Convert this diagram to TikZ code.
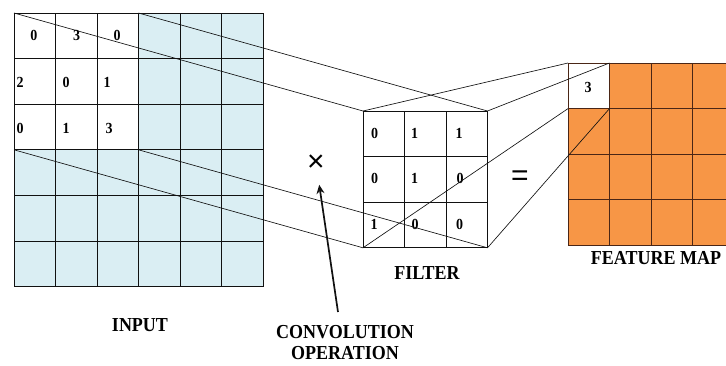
\documentclass[tikz,border=0pt]{standalone}
\usepackage{fontspec}
\setmainfont{Liberation Serif}
\newfontfamily\signfont{Liberation Sans}
\usetikzlibrary{arrows.meta,calc}
\definecolor{ink}{HTML}{111111}
\definecolor{inputfill}{HTML}{DAEEF3}
\definecolor{mapfill}{HTML}{F79646}
\definecolor{mapline}{HTML}{4A2616}
\tikzset{
  >={Stealth[length=9pt,width=8pt]},
  cellline/.style={draw=ink, line width=1pt, line cap=rect},
  mapcellline/.style={draw=mapline, line width=1pt, line cap=rect},
  proj/.style={draw=ink, line width=.65pt},
  callout/.style={draw=ink, line width=1.7pt, ->},
  num/.style={inner sep=0pt, font=\bfseries\fontsize{14}{16}\selectfont},
  caption/.style={align=center, inner sep=0pt,
    font=\bfseries\fontsize{18}{21}\selectfont},
  sign/.style={inner sep=0pt, font=\signfont\fontsize{30}{32}\selectfont}
}
\newcommand{\cellw}{41.5}
\newcommand{\cellh}{45.6}
\newcommand{\tallcaps}[1]{\scalebox{1}[1.1]{#1}}
\newcommand{\CellGrid}[6]{% name, x0, y0, cols, rows, line style
  \coordinate (#1-nw) at (#2,#3);
  \coordinate (#1-ne) at ({#2+#4*\cellw},#3);
  \coordinate (#1-sw) at (#2,{#3+#5*\cellh});
  \coordinate (#1-se) at ({#2+#4*\cellw},{#3+#5*\cellh});
  \foreach \i in {0,...,#4}
    \draw[#6] ({#2+\i*\cellw},#3) -- ({#2+\i*\cellw},{#3+#5*\cellh});
  \foreach \j in {0,...,#5}
    \draw[#6] (#2,{#3+\j*\cellh}) -- ({#2+#4*\cellw},{#3+\j*\cellh});
}

\begin{document}
\begin{tikzpicture}[x=1pt,y=-1pt]
  \useasboundingbox (0,0) rectangle (726,365);
  \clip (0,0) rectangle (726,365);

  % ------------------------------------------------------------------
  % input 6x6, window 3x3 top left
  \fill[inputfill] (14,13) rectangle ({14+6*\cellw},{13+6*\cellh});
  \fill[white] (14,13) rectangle ({14+3*\cellw},{13+3*\cellh});
  \CellGrid{input}{14}{13}{6}{6}{cellline}
  \CellGrid{win}{14}{13}{3}{3}{cellline}

  \node[num] (i11) at (34,35) {\tallcaps{0}};
  \node[num] (i12) at (76.5,35) {\tallcaps{3}};
  \node[num] (i13) at (117,35) {\tallcaps{0}};
  \node[num] (i21) at (20,82) {\tallcaps{2}};
  \node[num] (i22) at (66,82) {\tallcaps{0}};
  \node[num] (i23) at (107,82) {\tallcaps{1}};
  \node[num] (i31) at (20,128) {\tallcaps{0}};
  \node[num] (i32) at (66,128) {\tallcaps{1}};
  \node[num] (i33) at (109,128) {\tallcaps{3}};

  % ------------------------------------------------------------------
  % filter 3x3
  \CellGrid{filter}{363}{111}{3}{3}{cellline}

  \node[num] (f11) at (374.5,133) {\tallcaps{0}};
  \node[num] (f12) at (414.5,133) {\tallcaps{1}};
  \node[num] (f13) at (459,133) {\tallcaps{1}};
  \node[num] (f21) at (374.5,178) {\tallcaps{0}};
  \node[num] (f22) at (414.5,178) {\tallcaps{1}};
  \node[num] (f23) at (460,178) {\tallcaps{0}};
  \node[num] (f31) at (374,224) {\tallcaps{1}};
  \node[num] (f32) at (415,224) {\tallcaps{0}};
  \node[num] (f33) at (459.5,224) {\tallcaps{0}};

  % ------------------------------------------------------------------
  % feature map
  \fill[mapfill] (568,63) rectangle ({568+4*\cellw},{63+4*\cellh});
  \fill[white] (568,63) rectangle ({568+\cellw},{63+\cellh});
  \CellGrid{map}{568}{63}{4}{4}{mapcellline}
  \CellGrid{out}{568}{63}{1}{1}{mapcellline}
  \node[num] (m11) at (588,87) {\tallcaps{3}};

  % ------------------------------------------------------------------
  % projection lines
  \draw[proj] (win-nw) -- (filter-nw);
  \draw[proj] (win-ne) -- (filter-ne);
  \draw[proj] (win-sw) -- (filter-sw);
  \draw[proj] (win-se) -- (filter-se);
  \draw[proj] (filter-nw) -- (out-nw);
  \draw[proj] (filter-ne) -- (out-ne);
  \draw[proj] (filter-sw) -- (out-sw);
  \draw[proj] (filter-se) -- (out-se);

  % ------------------------------------------------------------------
  % signs and labels
  \node[sign] (times) at (316,163) {×};
  \node[sign] (equals) at (520,178) {=};

  \node[caption] (inputlabel) at (140,325) {\tallcaps{INPUT}};
  \node[caption] (filterlabel) at (427,273) {\tallcaps{FILTER}};
  \node[caption] (maplabel) at (656,258) {\tallcaps{FEATURE MAP}};
  \node[caption] (oplabel) at (345,342.5)
    {\tallcaps{CONVOLUTION}\\\tallcaps{OPERATION}};

  \coordinate (optail) at (338,312);
  \draw[callout, shorten >=22pt] (optail) -- (times.center);
\end{tikzpicture}
\end{document}
